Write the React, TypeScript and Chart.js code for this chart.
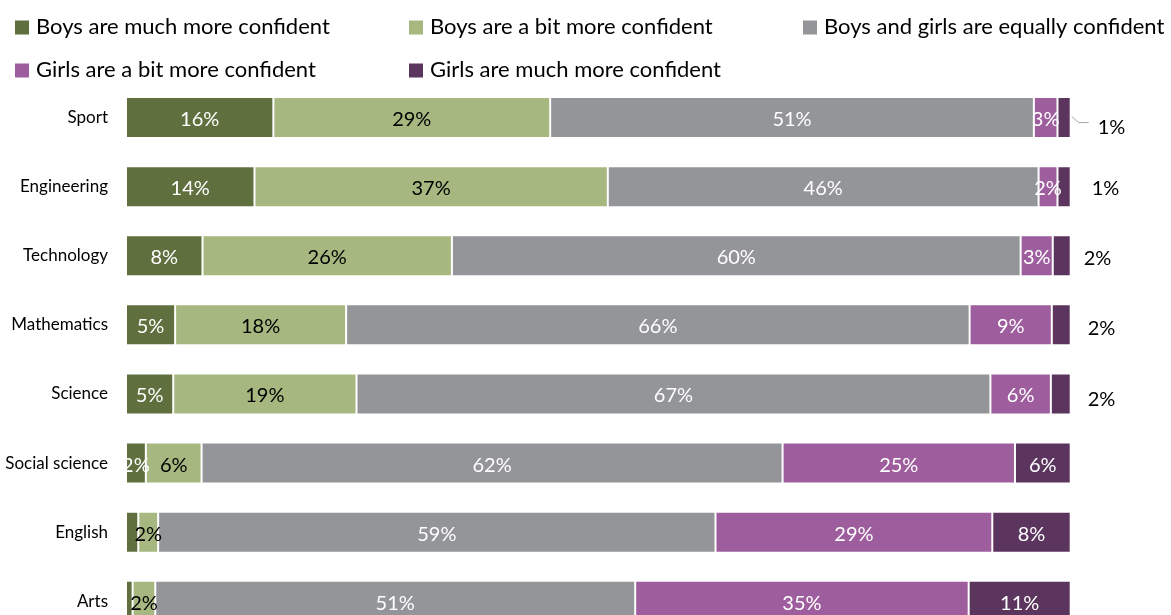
import React, { useEffect, useRef } from 'react';
import { Chart, registerables } from 'chart.js';

Chart.register(...registerables);

const categories = ['Sport', 'Engineering', 'Technology', 'Mathematics', 'Science', 'Social science', 'English', 'Arts'];
const seriesNames = [
  'Boys are much more confident',
  'Boys are a bit more confident',
  'Boys and girls are equally confident',
  'Girls are a bit more confident',
  'Girls are much more confident',
];
const boysMuch = [15.6, 13.6, 8.1, 5.2, 5.0, 2.1, 1.3, 0.7];
const boysBit = [29.3, 37.4, 26.4, 18.1, 19.4, 5.9, 2.1, 2.4];
const equal = [51.2, 45.6, 60.2, 66.0, 67.1, 61.5, 59.0, 50.8];
const girlsBit = [2.5, 2.0, 3.4, 8.7, 6.4, 24.6, 29.3, 35.3];
const girlsMuch = [1.4, 1.4, 1.9, 2.0, 2.1, 5.9, 8.3, 10.8];

const colors = ['#5f703e', '#a6b780', '#949599', '#9e5e9e', '#5c355e'];
const labelColors = ['#ffffff', '#000000', '#ffffff', '#ffffff', '#ffffff'];
const FONT = 'Lato, "Open Sans", sans-serif';

const CANVAS_H = 664;

const legendPlugin = {
  id: 'customLegend',
  afterDraw(chart: any) {
    const ctx = chart.ctx;
    const cols = [15, 409, 803];
    const rows = [{ sq: 20.5, base: 33.5 }, { sq: 63.5, base: 76.5 }];
    ctx.save();
    ctx.font = `22px ${FONT}`;
    ctx.textBaseline = 'alphabetic';
    ctx.textAlign = 'left';
    chart.data.datasets.forEach((ds: any, i: number) => {
      const r = rows[Math.floor(i / 3)];
      const x = cols[i % 3];
      ctx.fillStyle = ds.backgroundColor;
      ctx.fillRect(x, r.sq, 14, 14);
      ctx.fillStyle = '#000000';
      ctx.fillText(ds.label, x + 21, r.base);
    });
    ctx.restore();
  },
};

const outsideOffsets: Record<number, [number, number]> = {
  0: [27, 8],
  1: [21, 0],
  2: [13, 1],
  3: [17, 2],
  4: [17, 4],
};

const dataLabelPlugin = {
  id: 'dataLabels',
  afterDatasetsDraw(chart: any) {
    const ctx = chart.ctx;
    ctx.save();
    ctx.font = `20px ${FONT}`;
    ctx.textBaseline = 'middle';
    chart.data.datasets.forEach((ds: any, di: number) => {
      const meta = chart.getDatasetMeta(di);
      meta.data.forEach((bar: any, idx: number) => {
        const v = ds.data[idx];
        const text = Math.round(v) + '%';
        const left = Math.min(bar.x, bar.base);
        const right = Math.max(bar.x, bar.base);
        const cy = bar.y;
        if (di === 0 && v < 1.5) return;
        if (di === 4 && v < 3) {
          const off = outsideOffsets[idx] || [17, 2];
          if (idx === 0) {
            ctx.strokeStyle = '#a6a6a6';
            ctx.lineWidth = 1;
            ctx.beginPath();
            ctx.moveTo(right + 1, cy - 1);
            ctx.lineTo(right + 8, cy + 5);
            ctx.lineTo(right + 18, cy + 5);
            ctx.stroke();
          }
          ctx.fillStyle = '#000000';
          ctx.textAlign = 'left';
          ctx.fillText(text, right + off[0], cy + 2 + off[1]);
          return;
        }
        ctx.fillStyle = labelColors[di];
        ctx.textAlign = 'center';
        ctx.fillText(text, (left + right) / 2, cy + 2);
      });
    });
    ctx.restore();
  },
};

export default function App() {
  const canvasRef = useRef<HTMLCanvasElement | null>(null);

  useEffect(() => {
    if (!canvasRef.current) return;
    Chart.defaults.font.family = FONT;
    const seriesValues = [boysMuch, boysBit, equal, girlsBit, girlsMuch];
    const chart = new Chart(canvasRef.current, {
      type: 'bar',
      data: {
        labels: categories,
        datasets: seriesValues.map((vals, i) => ({
          label: seriesNames[i],
          data: vals,
          backgroundColor: colors[i],
          borderColor: 'rgba(255,255,255,0.25)',
          borderWidth: 1,
          borderSkipped: false,
          categoryPercentage: 1,
          barPercentage: 0.594,
        })),
      },
      options: {
        indexAxis: 'y',
        responsive: false,
        maintainAspectRatio: false,
        animation: false,
        layout: { padding: { top: 83, right: 100.3, bottom: 5, left: 0 } },
        plugins: {
          legend: { display: false },
          tooltip: { enabled: false },
        },
        scales: {
          x: { display: false, stacked: true, min: 0, max: 100 },
          y: {
            stacked: true,
            grid: { display: false, drawTicks: false },
            border: { display: false },
            ticks: { color: '#000000', font: { size: 17, family: FONT }, padding: 18 },
            afterFit: (scale: any) => {
              scale.width = 126;
            },
          },
        },
      },
      plugins: [legendPlugin, dataLabelPlugin],
    } as any);
    return () => chart.destroy();
  }, []);

  return (
    <div style={{ position: 'absolute', left: 0, top: 0, width: 1171, height: 615, overflow: 'hidden', background: '#ffffff' }}>
      <canvas ref={canvasRef} width={1171} height={CANVAS_H} style={{ width: 1171, height: CANVAS_H, display: 'block' }} />
    </div>
  );
}
